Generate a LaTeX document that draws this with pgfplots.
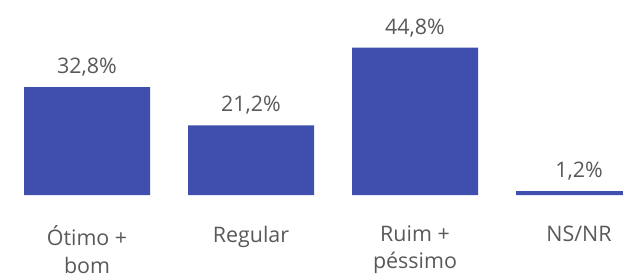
\documentclass[border=0pt]{standalone}
\usepackage{pgfplots}
\pgfplotsset{compat=1.18}
\usepackage{pgfplotstable}
\usepackage{fontspec}
\setmainfont{Open Sans}
\definecolor{barblue}{RGB}{64,78,174}
\definecolor{txtgray}{RGB}{89,89,89}
\pgfplotstableread{
x y lab
0 32.8 {32,8\%}
1 21.2 {21,2\%}
2 44.8 {44,8\%}
3 1.2 {1,2\%}
}\datatable
\begin{document}
\begin{tikzpicture}[x=1bp,y=1bp]
\useasboundingbox (0,0) rectangle (623,278);
\clip (0,0) rectangle (623,278);
\begin{axis}[
  at={(0,83bp)}, anchor=south west,
  scale only axis, width=623bp, height=195bp,
  xmin=-0.5305, xmax=3.2683, ymin=0, ymax=59.27,
  axis line style={draw=none}, ytick=\empty,
  xtick={0,1,2,3}, xtick style={draw=none},
  xticklabels={{Ótimo +\\bom},{Regular},{Ruim +\\péssimo},{NS/NR}},
  xticklabel style={align=center, font=\fontsize{21.5}{27.5}\selectfont, text=txtgray, anchor=north, yshift=-23bp},
  ybar, bar width=126bp,
  nodes near coords, point meta=explicit symbolic,
  every node near coord/.append style={font=\fontsize{21.5}{24}\selectfont, text=txtgray, anchor=south, yshift=7bp},
  clip=false,
]
\addplot[fill=barblue, draw=none] table[x=x, y=y, meta=lab] {\datatable};
\end{axis}
\end{tikzpicture}
\end{document}
